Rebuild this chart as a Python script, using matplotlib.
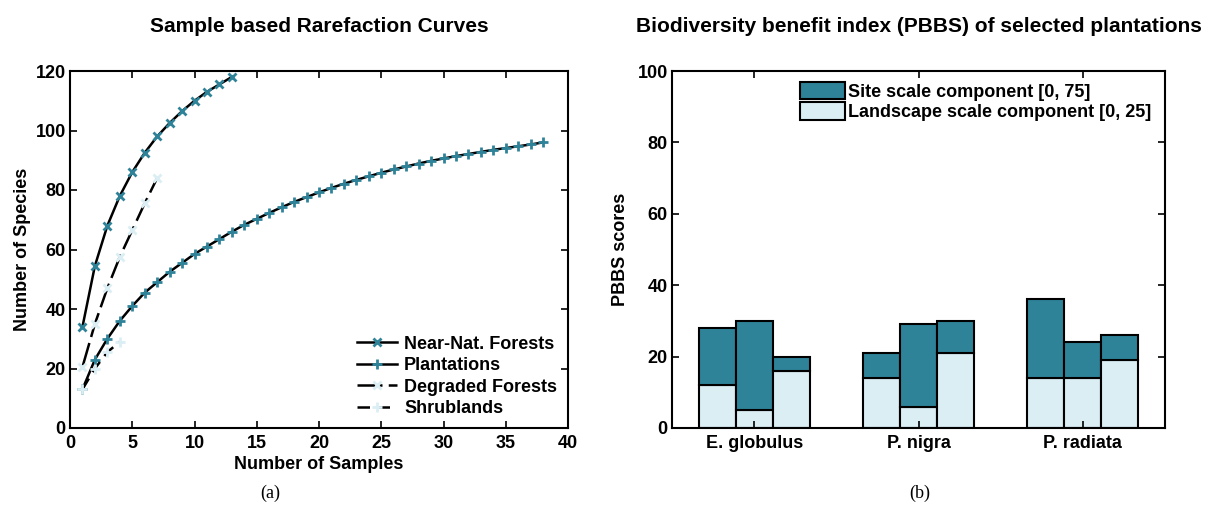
import numpy as np
import matplotlib
matplotlib.use("Agg")
import matplotlib.pyplot as plt

plt.rcParams['font.family'] = ['Liberation Sans', 'DejaVu Sans']
plt.rcParams['font.weight'] = 'bold'

# rarefaction curves (a)
near_nat = [34, 54.5, 68, 78, 86, 92.5, 98, 102.5, 106.5, 110, 113, 115.5, 118]
plantations = [13, 23, 30, 36, 41, 45.5, 49, 52.5, 55.5, 58.5, 61, 63.5, 66,
               68.3, 70.3, 72.3, 74.2, 76, 77.6, 79.2, 80.7, 82.1, 83.4, 84.6,
               85.8, 86.9, 87.9, 88.9, 89.8, 90.6, 91.4, 92.1, 92.8, 93.5,
               94.1, 94.7, 95.3, 96]
degraded = [20.5, 35, 47, 57.5, 66.5, 75.5, 84]
shrublands = [13, 20, 25.5, 29]

# PBBS bars (b)
species = ['E. globulus', 'P. nigra', 'P. radiata']
totals = [[28, 30, 20], [21, 29, 30], [36, 24, 26]]
landscape = [[12, 5, 16], [14, 6, 21], [14, 14, 19]]

dark = '#2f8399'
light = '#daeef4'

fig = plt.figure(figsize=(12.13, 5.08), dpi=100)

# ---- left panel
ax1 = fig.add_axes([70/1213, 80/508, 498/1213, 357/508])
ax1.plot(np.arange(1, len(near_nat)+1), near_nat, color='k', lw=1.8,
         marker='x', ms=6, mec=dark, mew=2, label='Near-Nat. Forests')
ax1.plot(np.arange(1, len(plantations)+1), plantations, color='k', lw=1.8,
         marker='+', ms=7, mec=dark, mew=2, label='Plantations')
ax1.plot(np.arange(1, len(degraded)+1), degraded, color='k', lw=1.8, ls=(0, (10, 2.5)),
         marker='x', ms=6, mec=light, mew=2, label='Degraded Forests')
ax1.plot(np.arange(1, len(shrublands)+1), shrublands, color='k', lw=1.8, ls=(0, (5, 3)),
         marker='+', ms=7, mec=light, mew=2, label='Shrublands')
ax1.set_xlim(0, 40)
ax1.set_ylim(0, 120)
ax1.set_xticks(range(0, 41, 5))
ax1.set_yticks(range(0, 121, 20))
ax1.tick_params(direction='in', top=True, right=True, labelsize=13, width=1.2, length=5, pad=3)
ax1.tick_params(axis='x', pad=5)
for s in ax1.spines.values():
    s.set_linewidth(1.5)
ax1.set_xlabel('Number of Samples', fontsize=13, fontweight='bold', labelpad=3)
ax1.set_ylabel('Number of Species', fontsize=13, fontweight='bold', labelpad=3)
ax1.set_title('Sample based Rarefaction Curves', fontsize=15, fontweight='bold', pad=28)
ax1.legend(loc='lower right', frameon=False, fontsize=13, handlelength=2.2,
           borderaxespad=0.2, labelspacing=0.25, handletextpad=0.4)

# ---- right panel
ax2 = fig.add_axes([672/1213, 80/508, 493/1213, 357/508])
w = 0.225
x = np.arange(1, len(species)+1)
for j, off in enumerate([-w, 0, w]):
    tot = np.array([t[j] for t in totals])
    lan = np.array([l[j] for l in landscape])
    ax2.bar(x + off, lan, w, color=light, edgecolor='k', lw=1.5,
            label='Landscape scale component [0, 25]' if j == 0 else None)
    ax2.bar(x + off, tot - lan, w, bottom=lan, color=dark, edgecolor='k', lw=1.5,
            label='Site scale component [0, 75]' if j == 0 else None)
ax2.set_xlim(0.5, 3.5)
ax2.set_ylim(0, 100)
ax2.set_xticks(x)
ax2.set_xticklabels(species)
ax2.set_yticks(range(0, 101, 20))
ax2.tick_params(direction='in', top=True, right=True, labelsize=13, width=1.2, length=5, pad=3)
ax2.tick_params(axis='x', pad=5)
for s in ax2.spines.values():
    s.set_linewidth(1.5)
ax2.set_ylabel('PBBS scores', fontsize=13, fontweight='bold', labelpad=6)
ax2.set_title('Biodiversity benefit index (PBBS) of selected plantations',
              fontsize=15, fontweight='bold', pad=28)
h, l = ax2.get_legend_handles_labels()
ax2.legend(h[::-1], l[::-1], loc='upper right', bbox_to_anchor=(0.995, 1.0),
           frameon=False, fontsize=13, handlelength=2.5, handleheight=1.1,
           borderaxespad=0.2, labelspacing=0.1, handletextpad=0.2)

fig.text(270/1213, 1 - 493/508, '(a)', ha='center', va='center',
         family='Liberation Serif', fontweight='normal', fontsize=13)
fig.text(920/1213, 1 - 493/508, '(b)', ha='center', va='center',
         family='Liberation Serif', fontweight='normal', fontsize=13)

fig.savefig('out.png', dpi=100)
